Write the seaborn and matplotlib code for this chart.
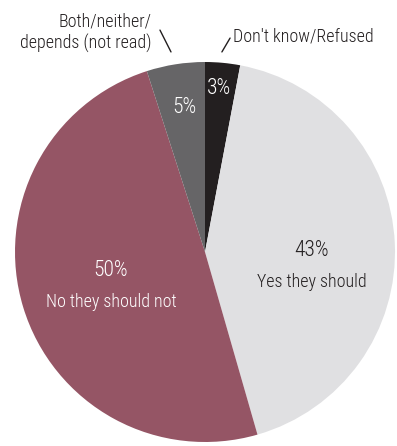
import matplotlib
matplotlib.use("Agg")
import matplotlib.pyplot as plt
from matplotlib import font_manager
import seaborn as sns

categories = ["Don't know/Refused", "Yes they should", "No they should not", "Both/neither/\ndepends (not read)"]
values = [3, 43, 50, 5]
pct_labels = ["3%", "43%", "50%", "5%"]
colors = ["#231f20", "#e0e0e2", "#955565", "#666567"]

sns.set_style("white")

# pick a condensed family if one is installed
family, fs, pfs = 'Roboto', 11.5, 13.5
for cand, size, psize in [('Roboto Condensed', 13, 15.5), ('Liberation Sans Narrow', 13, 15.5)]:
    try:
        font_manager.findfont(font_manager.FontProperties(family=cand), fallback_to_default=False)
        family, fs, pfs = cand, size, psize
        break
    except Exception:
        pass
plt.rcParams['font.family'] = [family, 'DejaVu Sans']
wt = 'light'

fig = plt.figure(figsize=(3.97, 4.46), dpi=100)
ax = fig.add_axes([15/397, 4/446, 380/397, 380/446])
ax.pie(values, colors=sns.color_palette(colors), startangle=90, counterclock=False,
       wedgeprops=dict(linewidth=0))
ax.set_xlim(-1, 1)
ax.set_ylim(-1, 1)
ax.set_aspect('equal')
ax.axis('off')

ax.text(0.074, 0.863, pct_labels[0], color='white', ha='center', va='center', fontsize=pfs, fontweight=wt)
ax.text(-0.11, 0.758, pct_labels[3], color='white', ha='center', va='center', fontsize=pfs, fontweight=wt)
ax.text(0.563, 0.01, pct_labels[1], color='#231f20', ha='center', va='center', fontsize=pfs, fontweight=wt)
ax.text(0.563, -0.158, categories[1], color='#231f20', ha='center', va='center', fontsize=fs, fontweight=wt)
ax.text(-0.495, -0.095, pct_labels[2], color='white', ha='center', va='center', fontsize=pfs, fontweight=wt)
ax.text(-0.495, -0.263, categories[2], color='white', ha='center', va='center', fontsize=fs, fontweight=wt)
ax.text(-0.279, 1.155, categories[3], color='#231f20', ha='right', va='center', fontsize=fs,
        linespacing=1.2, clip_on=False, fontweight=wt)
ax.text(0.147, 1.132, categories[0], color='#231f20', ha='left', va='center', fontsize=fs,
        clip_on=False, fontweight=wt)
ax.plot([-0.237, -0.179], [1.168, 1.053], color='#231f20', lw=1, clip_on=False)
ax.plot([0.089, 0.132], [1.053, 1.126], color='#231f20', lw=1, clip_on=False)

fig.savefig("out.png", dpi=100)
